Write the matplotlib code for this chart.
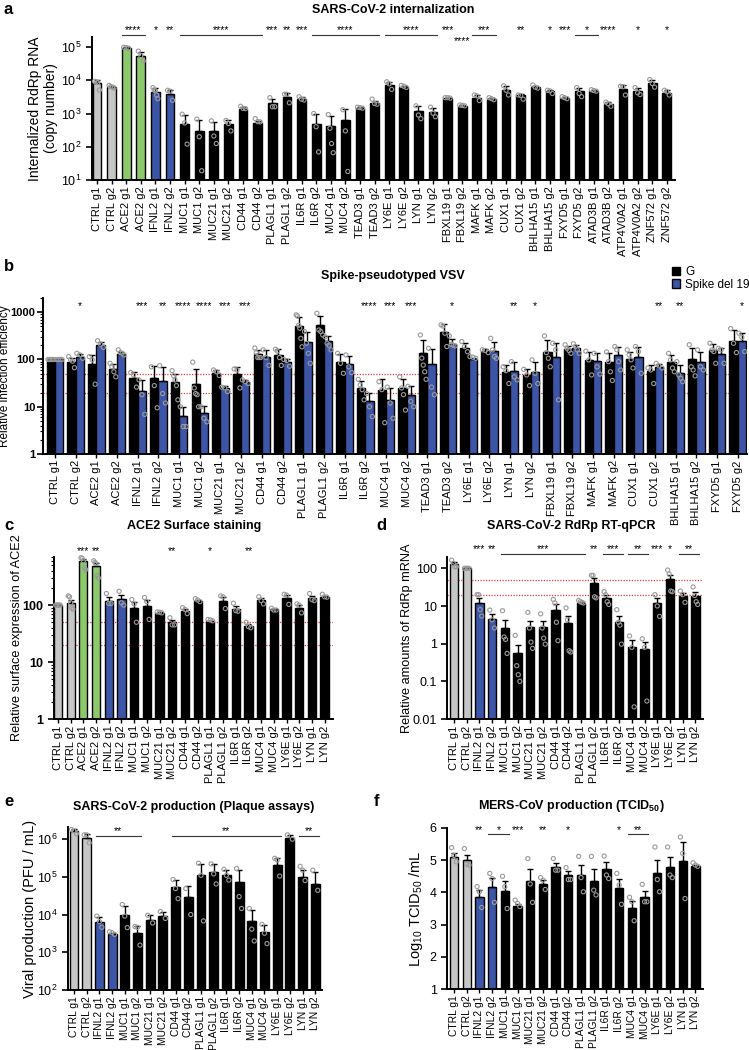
import numpy as np
import matplotlib
matplotlib.use("Agg")
import matplotlib.pyplot as plt
from matplotlib.patches import Patch
from matplotlib.ticker import LogLocator, NullFormatter, FixedLocator, FixedFormatter

plt.rcParams['font.family'] = ['Liberation Sans', 'DejaVu Sans']
plt.rcParams['mathtext.fontset'] = 'custom'
plt.rcParams['mathtext.rm'] = 'Liberation Sans'
plt.rcParams['mathtext.it'] = 'Liberation Sans:italic'
plt.rcParams['mathtext.bf'] = 'Liberation Sans:bold'

GREY = '#c6c6c6'
GREEN = '#8cc96a'
BLUE = '#3c55a6'
PT = '#9a9a9a'
RED = '#e8383d'

# ---------------- panel a: SARS-CoV-2 internalization
a_genes = ['CTRL', 'ACE2', 'IFNL2', 'MUC1', 'MUC21', 'CD44', 'PLAGL1', 'IL6R', 'MUC4', 'TEAD3',
           'LY6E', 'LYN', 'FBXL19', 'MAFK', 'CUX1', 'BHLHA15', 'FXYD5', 'ATAD3B', 'ATP4V0A2', 'ZNF572']
a_vals = [8000, 6200, 95000, 54000, 4400, 3800, 500, 300, 300, 470, 1400, 530, 2000, 3100, 2700, 480,
          420, 650, 1500, 2000, 7200, 6200, 1150, 1100, 2900, 1700, 3000, 2800, 5100, 3500, 6200, 4600,
          2900, 4600, 4900, 1900, 5500, 4600, 8000, 4200]
a_pts = [[9300, 9000, 8600, 5100], [7000, 6500, 6200, 5800], [98000, 96000, 92000], [75000, 55000, 38000],
         [6000, 5000, 4800, 3600, 2800], [5000, 4700, 2500], [950, 520, 120], [680, 200, 19],
         [600, 210, 125], [620, 500, 300], [1650, 1420, 1400], [700, 570, 560], [3000, 1600, 1600],
         [3800, 3800, 2100], [3200, 2700, 2550], [1000, 400, 70], [930, 360, 125, 66], [1300, 300, 18],
         [1550, 1500, 1450], [2700, 2000, 1900], [9000, 7800, 5300], [7000, 6600, 6100], [1700, 900, 700],
         [1550, 1020, 800], [3000, 3000, 2900], [1800, 1750, 1700], [3600, 3400, 2450], [3000, 2800, 2600],
         [6800, 5000, 3600], [3600, 3500, 2700], [7200, 6200, 5800], [5000, 4800, 4000], [3200, 3000, 2800],
         [6000, 4000, 3200], [5200, 4900, 4700], [2200, 1950, 1650], [6600, 6400, 3600], [6000, 4200, 3700],
         [10500, 8000, 6200], [5000, 4600, 3600]]
# (first bar, last bar, stars)
a_sig = [(2, 3, '****'), (4, 4, '*'), (5, 5, '**'), (6, 11, '****'), (12, 12, '***'), (13, 13, '**'),
         (14, 14, '***'), (15, 19, '****'), (20, 23, '****'), (24, 24, '***'), (26, 27, '***'),
         (29, 29, '**'), (31, 31, '*'), (32, 32, '***'), (33, 34, '*'), (35, 35, '****'), (37, 37, '*'),
         (39, 39, '*')]
a_sig_low = [(25, '****')]

# ---------------- panel b: Spike-pseudotyped VSV
b_genes = ['CTRL', 'ACE2', 'IFNL2', 'MUC1', 'MUC21', 'CD44', 'PLAGL1', 'IL6R', 'MUC4', 'TEAD3',
           'LY6E', 'LYN', 'FBXL19', 'MAFK', 'CUX1', 'BHLHA15', 'FXYD5']
b_g = [100, 87, 79, 63, 41, 41, 33, 31, 53, 49, 129, 124, 515, 525, 90, 25, 23, 25, 135, 390,
       172, 154, 55, 46, 147, 163, 96, 89, 103, 58, 90, 103, 159, 250]
b_s = [100, 115, 204, 129, 22, 35, 6.3, 7.5, 25, 34, 115, 89, 240, 250, 79, 13, 14, 18, 79, 210,
       101, 150, 58, 54, 115, 172, 93, 127, 115, 70, 52, 89, 129, 250]
b_g_pts = [[100, 100, 100, 100, 100], [115, 100, 92, 67], [115, 98, 30], [83, 70, 55, 43], [53, 47, 26],
           [70, 28, 9.5], [58, 45, 37, 28, 14], [88, 25, 19, 18, 10], [60, 55, 46], [63, 60, 25],
           [175, 140, 110, 110, 110], [165, 150, 110, 75], [880, 830, 530, 460, 280, 185],
           [950, 420, 390, 330], [135, 83, 51], [38, 29, 23, 14], [34, 23, 4.6], [43, 25, 18, 8.5],
           [330, 107, 76, 55, 38], [540, 510, 360, 188], [240, 188, 146], [160, 155, 140], [70, 58, 31],
           [62, 47, 28], [315, 140, 106, 70], [205, 172, 155, 135], [150, 98, 47], [145, 90, 55, 36],
           [160, 125, 98, 66], [66, 60, 31], [135, 98, 66, 55], [205, 70, 60, 45], [220, 160, 147, 83],
           [450, 220, 140]]
b_s_pts = [[100, 100, 100, 100], [135, 125, 106], [250, 210, 180], [160, 140, 135, 125], [37, 18, 6.9],
           [74, 19, 12], [10, 3.8, 3.8], [10, 5.7, 4.8], [26, 25, 21], [37, 34, 31], [160, 110, 75],
           [100, 95, 72], [390, 220, 135, 83], [300, 220, 200, 160], [125, 70, 53], [19, 10, 6.2],
           [26, 12, 5.7], [27, 13, 10], [172, 26, 18], [315, 210, 200, 194], [115, 112, 106],
           [280, 160, 115, 106], [90, 43, 37], [98, 51, 31], [220, 160, 14], [215, 188, 160, 135],
           [135, 70, 49], [188, 160, 90, 60], [188, 147, 51], [83, 73, 66], [90, 47, 40, 34],
           [160, 70, 60], [172, 160, 83], [360, 295, 147]]
b_sig = [(1, '*'), (4, '***'), (5, '**'), (6, '****'), (7, '****'), (8, '***'), (9, '***'), (15, '****'),
         (16, '***'), (17, '***'), (19, '*'), (22, '**'), (23, '*'), (29, '**'), (30, '**'), (33, '*')]

# ---------------- panel c: ACE2 surface staining
c_genes = ['CTRL', 'ACE2', 'IFNL2', 'MUC1', 'MUC21', 'CD44', 'PLAGL1', 'IL6R', 'MUC4', 'LY6E', 'LYN']
c_vals = [100, 110, 590, 480, 119, 126, 90, 98, 74, 50, 80, 117, 52, 119, 87, 43, 121, 84, 131, 90, 134, 140]
c_pts = [[100, 100, 100, 100, 100], [145, 140, 110, 90, 85], [680, 660, 600, 450, 420],
         [600, 560, 540, 330, 300], [160, 107, 107], [175, 110, 100], [125, 105, 50], [136, 115, 56],
         [76, 75, 73], [60, 45, 45], [90, 84, 71], [130, 123, 115], [56, 55, 53], [145, 140, 87],
         [108, 80, 78], [50, 42, 40], [140, 120, 105], [88, 82, 82], [155, 150, 103], [105, 100, 73],
         [160, 125, 120], [155, 140, 138]]
c_sig = [(2, 2, '***'), (3, 3, '**'), (9, 9, '**'), (12, 12, '*'), (15, 15, '**')]

# ---------------- panels d, e, f share the same knockouts
def_genes = ['CTRL', 'IFNL2', 'MUC1', 'MUC21', 'CD44', 'PLAGL1', 'IL6R', 'MUC4', 'LY6E', 'LYN']

d_vals = [130, 100, 12.3, 4.5, 2.6, 0.55, 2.7, 2.7, 7.9, 3.6, 12, 40, 16, 3.8, 0.8, 0.72, 12.3, 51, 19, 19]
d_pts = [[165, 135, 110, 110], [100, 100, 100, 100], [20, 20, 8, 5.4], [7.8, 4.3, 2.6],
         [7.5, 1.5, 1.3, 0.55], [1.66, 0.26, 0.15, 0.1], [6.8, 2.6, 1.1, 0.75], [6.2, 2.6, 1.4, 0.97],
         [15, 12, 3.7, 1.2], [8.9, 4.3, 0.65, 0.6], [14, 13, 12.5, 12], [65, 65, 17.5, 16.5],
         [24, 20, 13, 11], [8, 3.7, 3.1, 0.97], [1.6, 0.8, 0.021], [1.35, 0.8, 0.03], [20, 10, 5.3],
         [90, 70, 25, 24], [25, 20, 12.5], [32, 19, 13, 11]]
d_sig = [(2, 2, '***'), (3, 3, '**'), (4, 10, '***'), (11, 11, '**'), (12, 13, '***'), (14, 15, '**'),
         (16, 16, '***'), (17, 17, '*'), (18, 19, '**')]

e_vals = [1.66e6, 1.05e6, 6500, 3000, 1.0e4, 3150, 7400, 9100, 5.3e4, 2.97e4, 1.1e5, 1.35e5, 1.1e5,
          7.1e4, 6700, 3400, 2.1e5, 1.1e6, 1.0e5, 6.3e4]
e_pts = [[1.8e6, 1.66e6, 1.4e6], [1.3e6, 1.3e6, 8e5], [9.1e3, 6.5e3, 4.6e3], [3.5e3, 3.3e3, 3.0e3],
         [1.85e4, 9.1e3, 4.5e3], [4.8e3, 4.6e3, 1.55e3], [9.6e3, 6e3], [1.2e4, 7.9e3],
         [8.5e4, 4.9e4, 2.65e4], [4.9e4, 1e4], [2.3e5, 1.1e5, 6.8e3], [2.2e5, 1.2e5, 6.5e4],
         [1.58e5, 1.1e5, 8.2e4], [1.66e5, 3e4, 1.45e4], [1.45e4, 4.1e3, 2.0e3], [5.5e3, 3.2e3, 1.7e3],
         [3.1e5, 2.8e5, 1.05e5], [1.3e6, 1.0e6], [1.9e5, 1.5e5, 8e4], [1.5e5, 4.4e4]]
e_sig = [(2, 5, '**'), (8, 16, '**'), (18, 19, '**')]

f_vals = [5.10, 5.0, 3.87, 4.18, 4.05, 3.59, 4.34, 4.26, 4.79, 4.53, 4.53, 4.36, 4.72, 4.15, 3.51, 3.87,
          4.59, 4.78, 4.98, 4.81]
f_pts = [[5.39, 5.15, 4.95], [5.36, 4.88, 4.85], [4.18, 4.02, 3.53], [4.59, 4.43, 3.69], [4.5, 4.18, 3.5],
         [3.76, 3.66, 3.56], [5.05, 4.26, 3.69], [4.46, 4.38, 4.09], [5.05, 4.69, 4.69], [4.77, 4.4, 4.4],
         [5.12, 4.46, 4.02], [5.12, 4.07, 3.92], [5.13, 4.54, 4.43], [4.59, 4.23, 3.63],
         [3.85, 3.71, 3.12], [4.25, 3.71, 3.71], [5.41, 4.4, 4.02], [5.41, 4.54, 4.46],
         [5.72, 5.21, 3.81], [4.92, 4.85, 4.81]]
f_sig = [(2, 2, '**'), (3, 4, '*'), (5, 5, '***'), (7, 7, '**'), (9, 9, '*'), (13, 13, '*'), (14, 15, '**')]

W, H = 749, 1050
fig = plt.figure(figsize=(W / 100, H / 100), dpi=100)


def box(x0, x1, ytop, ybot):
    # pixel box -> figure fraction
    return [x0 / W, 1 - ybot / H, (x1 - x0) / W, (ybot - ytop) / H]


def labels_of(genes):
    return [f'{g} g{i}' for g in genes for i in (1, 2)]


def colors_of(genes):
    cmap = {'CTRL': GREY, 'ACE2': GREEN, 'IFNL2': BLUE}
    return [cmap.get(g, 'black') for g in genes for _ in (1, 2)]


def error_of(pts, kind):
    out = []
    for p in pts:
        p = np.asarray(p, float)
        if len(p) < 2:
            out.append(0.0)
            continue
        sd = p.std(ddof=1)
        out.append(sd / np.sqrt(len(p)) if kind == 'sem' else sd)
    return np.array(out)


def draw_bars(ax, x, vals, pts, colors, width, kind='sd', spread=0.28):
    vals = np.asarray(vals, float)
    err = error_of(pts, kind)
    ax.bar(x, vals, width, color=colors, edgecolor='black', linewidth=1.0, zorder=2)
    ax.errorbar(x, vals, yerr=[np.zeros_like(vals), err], fmt='none', ecolor='black',
                elinewidth=1.0, capsize=2.2, capthick=1.0, zorder=3)
    for xi, p in zip(x, pts):
        n = len(p)
        off = np.linspace(-width * spread, width * spread, n) if n > 1 else np.zeros(1)
        ax.scatter(xi + off, p, s=9, facecolor='none', edgecolor=PT, linewidth=0.8, zorder=4,
                   clip_on=False)


def style(ax, ylabel, ysize, xlab, xsize=8, ytsize=9, ypad=3.5):
    for s in ('top', 'right'):
        ax.spines[s].set_visible(False)
    for s in ('left', 'bottom'):
        ax.spines[s].set_linewidth(1.4)
    ax.tick_params(axis='y', width=1.2, length=4, labelsize=ytsize, pad=ypad)
    ax.tick_params(axis='x', width=1.0, length=3, labelsize=xsize, pad=1.5)
    ax.tick_params(which='minor', width=0.8, length=2)
    ax.set_ylabel(ylabel, fontsize=ysize)
    ax.yaxis.set_label_coords(xlab, 0.5)


def xcats(ax, labels, lo, hi):
    ax.set_xticks(np.arange(len(labels)))
    ax.set_xticklabels(labels, rotation=90)
    ax.set_xlim(lo, hi)


def sig(ax, items, ystar, yline, fs=7.5, half=0.3):
    tr = ax.get_xaxis_transform()
    for i0, i1, txt in items:
        xc = (i0 + i1) / 2
        ax.text(xc, ystar, txt, transform=tr, ha='center', va='baseline', fontsize=fs, clip_on=False)
        if i1 > i0:
            ax.plot([i0 - half, i1 + half], [yline, yline], transform=tr, color='#333333', lw=0.8,
                    clip_on=False)


def red_lines(ax):
    for v in (50, 20):
        ax.axhline(v, color=RED, ls=(0, (1, 1.2)), lw=0.9, zorder=1)


def letter(x, y, s):
    fig.text(x / W, 1 - y / H, s, fontsize=12, fontweight='bold', va='center', ha='left')


def title(x, y, s):
    fig.text(x / W, 1 - y / H, s, fontsize=9, fontweight='bold', va='center', ha='center')


# ---- a
ax = fig.add_axes(box(92, 675, 37, 180))
xa = np.arange(len(a_vals))
draw_bars(ax, xa, a_vals, a_pts, colors_of(a_genes), 0.6)
ax.set_yscale('log')
ax.set_ylim(10, 2e5)
ax.yaxis.set_major_locator(FixedLocator([1e1, 1e2, 1e3, 1e4, 1e5]))
ax.yaxis.set_minor_locator(FixedLocator([]))
style(ax, 'Internalized RdRp RNA\n(copy number)', 10, -0.058)
xcats(ax, labels_of(a_genes), -0.34, 39.56)
sig(ax, a_sig, 1.03, 1.015)
tr = ax.get_xaxis_transform()
for i, txt in a_sig_low:
    ax.text(i, 0.95, txt, transform=tr, ha='center', va='baseline', fontsize=7.5, clip_on=False)
letter(4, 9, 'a')
title(393, 10, 'SARS-CoV-2 internalization')

# ---- b
ax = fig.add_axes(box(43, 747, 298, 454))
xb = np.arange(len(b_g))
bw = 0.4
draw_bars(ax, xb - bw / 2, b_g, b_g_pts, ['black'] * len(b_g), bw, spread=0.35)
draw_bars(ax, xb + bw / 2, b_s, b_s_pts, [BLUE] * len(b_s), bw, spread=0.35)
ax.set_yscale('log')
ax.set_ylim(1, 2000)
ax.yaxis.set_major_locator(FixedLocator([1, 10, 100, 1000]))
ax.yaxis.set_major_formatter(FixedFormatter(['1', '10', '100', '1000']))
ax.yaxis.set_minor_locator(LogLocator(base=10, subs=np.arange(2, 10)))
ax.yaxis.set_minor_formatter(NullFormatter())
red_lines(ax)
style(ax, 'Relative infection efficiency', 8.5, -0.046, ytsize=8, ypad=1.5)
for t in ax.get_yticklabels():
    t.set_fontweight('bold')
xcats(ax, labels_of(b_genes), -0.58, 33.45)
sig(ax, [(i + 0.2, i + 0.2, s) for i, s in b_sig], 0.93, 0.93)
fig.legend(handles=[Patch(facecolor='black', edgecolor='black'),
                    Patch(facecolor=BLUE, edgecolor='black')],
           labels=['G', 'Spike del 19'], loc='upper left', bbox_to_anchor=(672 / W, 1 - 266 / H),
           frameon=False, fontsize=8.5, handlelength=0.7, handleheight=0.7, handletextpad=0.4,
           borderpad=0, labelspacing=0.05, borderaxespad=0)
letter(4, 266, 'b')
title(393, 276, 'Spike-pseudotyped VSV')

# ---- c
ax = fig.add_axes(box(54, 333, 557, 719))
xc = np.arange(len(c_vals))
draw_bars(ax, xc, c_vals, c_pts, colors_of(c_genes), 0.65, kind='sem')
ax.set_yscale('log')
ax.set_ylim(1, 700)
ax.yaxis.set_major_locator(FixedLocator([1, 10, 100]))
ax.yaxis.set_major_formatter(FixedFormatter(['1', '10', '100']))
ax.yaxis.set_minor_locator(LogLocator(base=10, subs=np.arange(2, 10)))
ax.yaxis.set_minor_formatter(NullFormatter())
red_lines(ax)
style(ax, 'Relative surface expression of ACE2', 9.2, -0.111)
for t in ax.get_yticklabels():
    t.set_fontweight('bold')
xcats(ax, labels_of(c_genes), -0.31, 21.66)
sig(ax, c_sig, 1.015, 1.0)
letter(4, 525, 'c')
title(194, 526, 'ACE2 Surface staining')

# ---- d
ax = fig.add_axes(box(447, 703, 557, 719))
xd = np.arange(len(d_vals))
draw_bars(ax, xd, d_vals, d_pts, colors_of(def_genes), 0.65, kind='sem')
ax.set_yscale('log')
ax.set_ylim(0.01, 200)
ax.yaxis.set_major_locator(FixedLocator([0.01, 0.1, 1, 10, 100]))
ax.yaxis.set_major_formatter(FixedFormatter(['0.01', '0.1', '1', '10', '100']))
ax.yaxis.set_minor_locator(FixedLocator([]))
red_lines(ax)
style(ax, 'Relative amounts of RdRp mRNA', 9.2, -0.133)
xcats(ax, labels_of(def_genes), -0.55, 19.6)
sig(ax, d_sig, 1.032, 1.018)
letter(376, 525, 'd')
title(571, 526, 'SARS-CoV-2 RdRp RT-qPCR')

# ---- e
ax = fig.add_axes(box(68, 322, 827, 990))
xe = np.arange(len(e_vals))
draw_bars(ax, xe, e_vals, e_pts, colors_of(def_genes), 0.7)
ax.set_yscale('log')
ax.set_ylim(100, 2.1e6)
ax.yaxis.set_major_locator(FixedLocator([1e2, 1e3, 1e4, 1e5, 1e6]))
ax.yaxis.set_minor_locator(FixedLocator([]))
style(ax, 'Viral production (PFU / mL)', 10.5, -0.122, xsize=7.4)
xcats(ax, labels_of(def_genes), -0.47, 19.53)
sig(ax, e_sig, 0.955, 0.945)
letter(4, 802, 'e')
title(194, 807, 'SARS-CoV-2 production (Plaque assays)')

# ---- f
ax = fig.add_axes(box(447, 703, 828, 989))
xf = np.arange(len(f_vals))
draw_bars(ax, xf, f_vals, f_pts, colors_of(def_genes), 0.65, kind='sem')
ax.set_ylim(1, 6)
ax.set_yticks([1, 2, 3, 4, 5, 6])
style(ax, r'Log$_{10}$ TCID$_{50}$ /mL', 10.5, -0.086, xsize=7.4)
xcats(ax, labels_of(def_genes), -0.55, 19.6)
sig(ax, f_sig, 0.97, 0.96)
letter(374, 802, 'f')
title(571, 806, r'MERS-CoV production (TCID$_{\mathbf{50}}$)')

fig.savefig('out.png', dpi=100)
